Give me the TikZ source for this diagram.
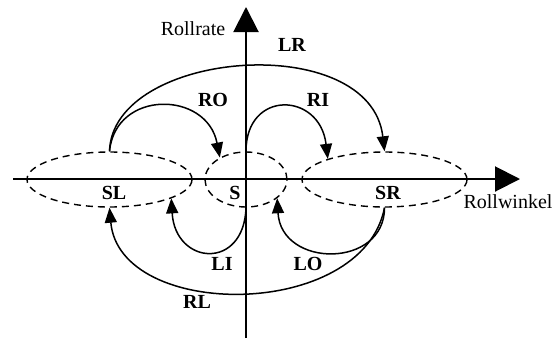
\documentclass[tikz,border=0pt]{standalone}
\usepackage{fontspec}
\setmainfont{Liberation Serif}
\usetikzlibrary{arrows.meta,shapes.geometric}

\begin{document}
\begin{tikzpicture}[x=0.5pt, y=-0.5pt,
  font=\fontsize{10}{12}\selectfont,
  axis/.style={line width=1pt, -{Triangle[length=12.5pt,width=12.5pt]}},
  state/.style={ellipse, draw, dash pattern=on 3.5pt off 2.5pt, line width=0.7pt,
    minimum width=82.5pt, minimum height=27.5pt, inner sep=0pt},
  trans/.style={line width=0.75pt, -{Triangle[length=7.5pt,width=6pt]}},
  lbl/.style={font=\fontsize{10}{12}\selectfont\bfseries}]
\useasboundingbox (0,0) rectangle (555,338);

% Axes
\coordinate (xs) at (13,179);
\coordinate (xe) at (520,179);
\coordinate (ys) at (246,338);
\coordinate (ye) at (246,7);
\draw[axis] (xs) -- (xe);
\draw[axis] (ys) -- (ye);
\node (xlab) at (508,202) {Rollwinkel};
\node (ylab) at (193,29) {Rollrate};

% States
\node[state] (SL) at (109.5,179.5) {};
\node[state, minimum width=41pt] (S) at (246,179.5) {};
\node[state] (SR) at (384.5,179.5) {};
\node[lbl] (lSL) at (114,193) {SL};
\node[lbl] (lS) at (235,193) {S};
\node[lbl] (lSR) at (388,193) {SR};

% Transitions above the axis
\draw[trans] (SL.north) .. controls +(3,-102) and +(-14,-122) .. (SR.north);
\draw[trans] (SL.north) .. controls +(6,-62) and +(-13,-67) .. (S.140);
\draw[trans] (S.north) .. controls +(0,-62) and +(-8,-67) .. (SR.160);
\node[lbl] (lLR) at (292,45) {LR};
\node[lbl] (lRO) at (213,100) {RO};
\node[lbl] (lRI) at (318,100) {RI};

% Transitions below the axis
\draw[trans] (S.south) .. controls +(-2,63) and +(4,67) .. (SL.-17);
\draw[trans] (SR.south) .. controls +(0,61) and +(4,70) .. (S.-31);
\draw[trans] (SR.south) .. controls +(-22,113) and +(10,113) .. (SL.south);
\node[lbl] (lLI) at (222,264) {LI};
\node[lbl] (lLO) at (308,264) {LO};
\node[lbl] (lRL) at (197,302) {RL};
\end{tikzpicture}
\end{document}
